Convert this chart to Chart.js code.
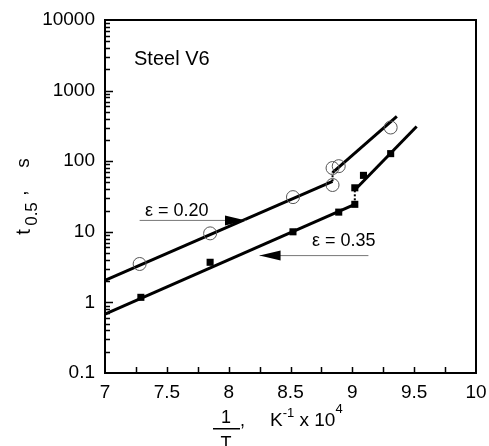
<!DOCTYPE html>
<html>
<head>
<meta charset="utf-8">
<script src="https://cdn.jsdelivr.net/npm/chart.js@4.4.1/dist/chart.umd.min.js"></script>
<style>
  html, body { margin: 0; padding: 0; background: #fff; }
  #wrap { width: 489px; height: 446px; position: relative; }
</style>
</head>
<body>
<div id="wrap"><canvas id="chart"></canvas></div>
<script>
// eps = 0.20, open circles
const circleX = [7.28, 7.85, 8.52, 8.84, 8.84, 8.89, 9.31];
const circleY = [3.5, 9.5, 31, 46, 80, 85, 300];
// eps = 0.35, filled squares
const squareX = [7.29, 7.85, 8.52, 8.89, 9.02, 9.02, 9.09, 9.31];
const squareY = [1.18, 3.7, 10, 19, 24.5, 42, 63, 128];

// fitted lines (two branches each) and the dotted jump between them
const fit20LoX = [7, 8.84],    fit20LoY = [2.05, 52];
const fit20HiX = [8.84, 9.36], fit20HiY = [69, 430];
const fit35LoX = [7, 9.02],    fit35LoY = [0.68, 24.5];
const fit35HiX = [9.02, 9.52], fit35HiY = [39, 310];
const jump20Y = [52, 69];
const jump35Y = [24.5, 39];

// arrows pointing at each line
const arrowFromX = [7.28, 9.13];
const arrowToX = [8.14, 8.25];
const arrowY = [14.5, 4.6];

const xTickValues = [7, 7.5, 8, 8.5, 9, 9.5, 10];
const yTickValues = [0.1, 1, 10, 100, 1000, 10000];
const yTickLabels = ['0.1', '1', '10', '100', '1000', '10000'];

const FONT = "'Liberation Sans', Arial, sans-serif";

function pts(xs, ys) {
    return xs.map((x, i) => ({ x: x, y: ys[i] }));
}

function lineSet(data, dashed) {
    return {
        type: 'line',
        data: data,
        borderColor: '#000',
        borderWidth: dashed ? 2 : 3,
        borderDash: dashed ? [2, 2] : [],
        pointRadius: 0,
        fill: false,
        tension: 0
    };
}

const decor = {
    id: 'decor',
    afterDraw(chart) {
        const { ctx, chartArea: a, scales: { x, y } } = chart;
        ctx.save();

        // frame
        ctx.strokeStyle = '#000';
        ctx.lineWidth = 2;
        ctx.strokeRect(a.left, a.top, a.right - a.left, a.bottom - a.top);

        // inward ticks
        ctx.lineWidth = 1.5;
        ctx.beginPath();
        for (let v = 7.25; v < 10; v += 0.25) {
            const px = Math.round(x.getPixelForValue(v)) + 0.5;
            ctx.moveTo(px, a.bottom);
            ctx.lineTo(px, a.bottom - 6);
        }
        for (let e = -1; e < 4; e++) {
            for (let k = 1; k <= 9; k++) {
                const v = k * Math.pow(10, e);
                if (k === 1 && e === -1) continue;
                const py = Math.round(y.getPixelForValue(v)) + 0.5;
                ctx.moveTo(a.left, py);
                ctx.lineTo(a.left + (k === 1 ? 8 : 5), py);
            }
        }
        ctx.stroke();

        // arrows
        arrowFromX.forEach((fx, i) => {
            const x0 = x.getPixelForValue(fx);
            const x1 = x.getPixelForValue(arrowToX[i]);
            const py = y.getPixelForValue(arrowY[i]);
            const dir = Math.sign(x1 - x0);
            ctx.strokeStyle = '#777';
            ctx.lineWidth = 1;
            ctx.beginPath();
            ctx.moveTo(x0, py);
            ctx.lineTo(x1, py);
            ctx.stroke();
            ctx.fillStyle = '#000';
            ctx.beginPath();
            ctx.moveTo(x1, py);
            ctx.lineTo(x1 - dir * 21, py - 5);
            ctx.lineTo(x1 - dir * 21, py + 5);
            ctx.closePath();
            ctx.fill();
        });

        // texts
        ctx.fillStyle = '#000';
        ctx.textBaseline = 'alphabetic';
        ctx.textAlign = 'left';
        ctx.font = '20px ' + FONT;
        ctx.fillText('Steel V6', 134, 65);
        ctx.font = '18px ' + FONT;
        ctx.fillText('\u03b5 = 0.20', 145, 216);
        ctx.fillText('\u03b5 = 0.35', 312, 246);

        // x title: 1/T, K^-1 x 10^4
        ctx.textAlign = 'center';
        ctx.font = '18px ' + FONT;
        ctx.fillText('1', 226, 423);
        ctx.fillText('T', 226, 449);
        ctx.fillRect(213, 428, 27, 1.5);
        ctx.textAlign = 'left';
        ctx.fillText(',', 240, 426);
        let cx = 270;
        const run = [['K', 19, 426], ['-1', 13, 417], [' x ', 19, 426], ['10', 19, 426], ['4', 13, 413]];
        run.forEach(([s, size, base]) => {
            ctx.font = size + 'px ' + FONT;
            ctx.fillText(s, cx, base);
            cx += ctx.measureText(s).width;
        });

        // y title: t0.5 , s  (rotated)
        const rot = (s, bx, cy, size) => {
            ctx.save();
            ctx.translate(bx, cy);
            ctx.rotate(-Math.PI / 2);
            ctx.textAlign = 'center';
            ctx.font = size + 'px ' + FONT;
            ctx.fillText(s, 0, 0);
            ctx.restore();
        };
        rot('t', 30, 232, 20);
        rot('0.5', 37, 214, 17);
        rot(',', 26, 193, 19);
        rot('s', 29, 163, 19);

        ctx.restore();
    }
};

new Chart(document.getElementById('chart'), {
    type: 'scatter',
    data: {
        datasets: [
            {
                data: pts(circleX, circleY),
                pointStyle: 'circle',
                pointRadius: 6.5,
                borderColor: '#555',
                borderWidth: 1,
                backgroundColor: 'rgba(0,0,0,0)'
            },
            {
                data: pts(squareX, squareY),
                pointStyle: 'rect',
                pointRadius: 5,
                borderColor: '#000',
                borderWidth: 0,
                backgroundColor: '#000'
            },
            lineSet(pts(fit20LoX, fit20LoY)),
            lineSet(pts(fit20HiX, fit20HiY)),
            lineSet(pts(fit35LoX, fit35LoY)),
            lineSet(pts(fit35HiX, fit35HiY)),
            lineSet(pts([fit20LoX[1], fit20LoX[1]], jump20Y), true),
            lineSet(pts([fit35LoX[1], fit35LoX[1]], jump35Y), true)
        ]
    },
    options: {
        responsive: true,
        maintainAspectRatio: false,
        animation: false,
        layout: { padding: { top: 20, right: 13, left: 0, bottom: 0 } },
        plugins: { legend: { display: false }, tooltip: { enabled: false } },
        scales: {
            x: {
                type: 'linear',
                min: 7,
                max: 10,
                afterBuildTicks: s => { s.ticks = xTickValues.map(v => ({ value: v })); },
                afterFit: s => { s.height = 73; s.paddingLeft = 0; s.paddingRight = 0; },
                grid: { display: false, drawTicks: false },
                border: { display: false },
                ticks: {
                    padding: 8,
                    color: '#000',
                    font: { size: 19, family: FONT },
                    callback: v => String(v)
                }
            },
            y: {
                type: 'logarithmic',
                min: 0.1,
                max: 10000,
                afterBuildTicks: s => { s.ticks = yTickValues.map(v => ({ value: v })); },
                afterFit: s => { s.width = 105; s.paddingTop = 0; s.paddingBottom = 0; },
                grid: { display: false, drawTicks: false },
                border: { display: false },
                ticks: {
                    padding: 10,
                    autoSkip: false,
                    color: '#000',
                    font: { size: 19, family: FONT },
                    callback: v => yTickLabels[yTickValues.indexOf(v)]
                }
            }
        }
    },
    plugins: [decor]
});
</script>
</body>
</html>
